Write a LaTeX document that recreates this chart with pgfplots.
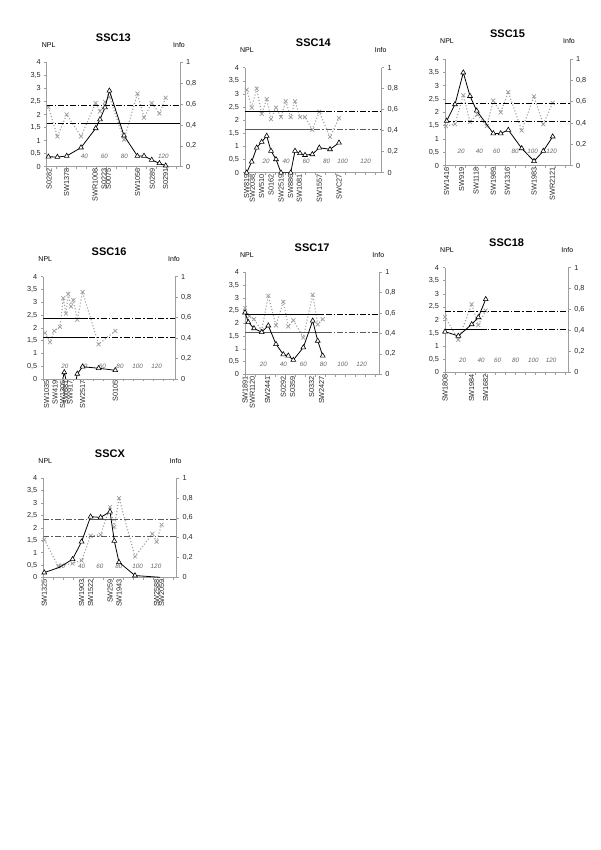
\documentclass[border=0pt]{standalone}
\usepackage{fontspec}
\setmainfont{Liberation Sans}
\usepackage{pgfplots}
\pgfplotsset{compat=1.18}
\definecolor{axgray}{gray}{0.62}
\definecolor{infogray}{gray}{0.62}
\definecolor{thrgray}{gray}{0.35}
\pgfplotsset{
 base/.style={scale only axis, anchor=south west, xmin=0, clip=true, clip mode=individual,
   /pgf/number format/use comma, /pgf/number format/assume math mode=true,
   tick align=outside, major tick length=2.5pt, tick style={axgray, line width=0.5pt},
   tick label style={font=\fontsize{7.3}{8}\selectfont, text=black!85},
   axis line style={axgray, line width=0.6pt}},
 infax/.style={base, axis y line*=right, axis x line=none, ymin=0, ymax=1,
   ytick={0,0.2,0.4,0.6,0.8,1}, yticklabel style={/pgf/number format/fixed}},
 nplax/.style={base, axis y line*=left, axis x line*=bottom, ymin=0, ymax=4,
   ytick={0,0.5,1,1.5,2,2.5,3,3.5,4}, xtick={0,10,...,140}, xticklabels={},
   extra x tick style={major tick length=0pt,
     tick label style={rotate=90, anchor=east, font=\fontsize{7.3}{8}\selectfont, inner sep=1.5pt}}},
 infoplot/.style={infogray, dotted, line width=1.1pt, mark=x, mark size=2.8pt,
   mark options={solid, line width=0.7pt, infogray}},
 nplplot/.style={black, line width=0.8pt, mark=triangle*, mark size=2.8pt,
   mark options={fill=white, draw=black, line width=0.6pt, solid}},
 nplline/.style={black, line width=0.8pt, no marks},
 nplmarks/.style={only marks, mark=triangle*, mark size=2.8pt,
   mark options={fill=white, draw=black, line width=0.6pt, solid}},
 thr/.style={black, line width=0.9pt, no marks, dash pattern=on 6pt off 2pt on 1.5pt off 2pt},
 thrs/.style={black, line width=0.9pt, no marks, solid},
}
\newcommand{\nlab}[3]{\node[font=\fontsize{6.3}{7}\selectfont\itshape, text=black!60, inner sep=0pt] at (axis cs:#1,#2) {#3};}
\newcommand{\heads}[1]{%
 \node[font=\fontsize{11}{12}\selectfont\bfseries, anchor=base, yshift=21pt] at (rel axis cs:0.5,1) {#1};
 \node[font=\fontsize{7}{8}\selectfont, anchor=base, xshift=2pt, yshift=15pt] at (rel axis cs:0,1) {NPL};
 \node[font=\fontsize{7}{8}\selectfont, anchor=base, xshift=-1pt, yshift=15pt] at (rel axis cs:1,1) {Info};}
\begin{document}
\begin{tikzpicture}
\path[use as bounding box] (0,0) rectangle (600pt,850pt);

% ---------------- SSC13 ----------------
\begin{axis}[infax, at={(46.7pt,683.3pt)}, width=133.3pt, height=104.4pt, xmax=133.3]
\addplot[infoplot] coordinates {(1.7,0.57)(10.7,0.29)(20,0.50)(34.3,0.29)(49,0.61)(53.3,0.53)(58.3,0.62)(62.7,0.67)(77.3,0.26)(90.7,0.70)(97.3,0.47)(105,0.61)(112.7,0.51)(119,0.66)};
\end{axis}
\begin{axis}[nplax, at={(46.7pt,683.3pt)}, width=133.3pt, height=104.4pt, xmax=133.3,
  extra x ticks={2.3,20,48.3,57.3,61.7,91,105.7,119},
  extra x tick labels={S0282,SW1378,SWR1008,S0223,S0075,SW1056,S0289,S0291}]
\addplot[thr] coordinates {(0,2.33)(133.3,2.33)};
\addplot[thr] coordinates {(0,1.64)(133.3,1.64)};
\addplot[thrs] coordinates {(40,1.64)(133.3,1.64)};
\nlab{37.7}{0.38}{40}\nlab{57.7}{0.38}{60}\nlab{77.7}{0.38}{80}\nlab{116.7}{0.38}{120}
\addplot[nplplot] coordinates {(1.7,0.38)(10.7,0.37)(20,0.41)(34.3,0.73)(49,1.47)(53.3,1.81)(58.3,2.27)(62.7,2.91)(77.3,1.19)(90.7,0.41)(97.3,0.41)(105,0.26)(112.7,0.13)(119,0.04)};
\heads{SSC13}
\end{axis}

% ---------------- SSC14 ----------------
\begin{axis}[infax, at={(245pt,677.3pt)}, width=136.7pt, height=105pt, xmax=136.7]
\addplot[infoplot] coordinates {(1.7,0.79)(6.7,0.62)(11.7,0.80)(16.7,0.56)(21.7,0.70)(26,0.51)(31,0.62)(36,0.53)(40.7,0.68)(45.7,0.53)(50,0.68)(55,0.53)(60,0.53)(67.3,0.41)(74.3,0.58)(85,0.34)(94,0.52)};
\end{axis}
\begin{axis}[nplax, at={(245pt,677.3pt)}, width=136.7pt, height=105pt, xmax=136.7,
  extra x ticks={1.7,7.3,16.7,26,36,45.7,54.3,74.3,94},
  extra x tick labels={SW819,SW2038,SW510,S0162,SW2519,SW886,SW1081,SW1557,SWC27}]
\addplot[thr] coordinates {(0,2.33)(136.7,2.33)};
\addplot[thrs] coordinates {(0,2.33)(80,2.33)};
\addplot[thr, thrgray] coordinates {(0,1.64)(136.7,1.64)};
\addplot[thrs, thrgray] coordinates {(0,1.64)(67,1.64)};
\nlab{21}{0.42}{20}\nlab{41}{0.42}{40}\nlab{61}{0.42}{60}\nlab{81.7}{0.42}{80}\nlab{97.7}{0.42}{100}\nlab{120.7}{0.42}{120}
\addplot[nplplot] coordinates {(1.7,0)(6.7,0.42)(11.7,0.95)(16.7,1.17)(21.7,1.40)(26,0.83)(31,0.51)(36,0)(45.7,0)(50,0.83)(55,0.74)(60,0.67)(67.3,0.70)(74.3,0.95)(85,0.89)(94,1.14)};
\heads{SSC14}
\end{axis}

% ---------------- SSC15 ----------------
\begin{axis}[infax, at={(445pt,684.3pt)}, width=125pt, height=106.7pt, xmax=125]
\addplot[infoplot] coordinates {(1,0.37)(10,0.39)(18.3,0.66)(25,0.41)(32.3,0.48)(41.7,0.37)(48.3,0.61)(55.7,0.50)(63.3,0.69)(76.7,0.33)(89,0.65)(98.3,0.39)(107.7,0.59)};
\end{axis}
\begin{axis}[nplax, at={(445pt,684.3pt)}, width=125pt, height=106.7pt, xmax=125,
  extra x ticks={1.7,16.7,31,48.3,62.3,89,107.3},
  extra x tick labels={SW1416,SW919,SW1118,SW1989,SW1316,SW1983,SWR2121}]
\addplot[thr] coordinates {(0,2.33)(125,2.33)};
\addplot[thr] coordinates {(0,1.64)(125,1.64)};
\nlab{16}{0.52}{20}\nlab{34.3}{0.52}{40}\nlab{51.7}{0.52}{60}\nlab{70}{0.52}{80}\nlab{87.7}{0.52}{100}\nlab{106.7}{0.52}{120}
\addplot[nplplot] coordinates {(1.7,1.68)(10,2.30)(18.3,3.49)(25,2.61)(31.7,2.06)(48.3,1.21)(55.7,1.21)(63.3,1.34)(76.7,0.65)(89,0.17)(98.3,0.55)(107.7,1.09)};
\heads{SSC15}
\end{axis}

% ---------------- SSC16 ----------------
\begin{axis}[infax, at={(43.3pt,471pt)}, width=131.7pt, height=102.3pt, xmax=131.7]
\addplot[infoplot] coordinates {(1.7,0.45)(6.7,0.36)(11,0.47)(16.7,0.51)(20,0.79)(22.7,0.64)(25,0.83)(27.7,0.71)(30,0.77)(34,0.58)(39.3,0.85)(55.3,0.34)(72,0.47)};
\end{axis}
\begin{axis}[nplax, at={(43.3pt,471pt)}, width=131.7pt, height=102.3pt, xmax=131.7,
  extra x ticks={3.3,11.7,19.3,22.3,26.7,39.3,72},
  extra x tick labels={SW1035,SW419,SW1305,SW681,SW917,SW2517,S0105}]
\addplot[thr] coordinates {(0,2.35)(131.7,2.35)};
\addplot[thrs] coordinates {(0,2.35)(45,2.35)};
\addplot[thr] coordinates {(0,1.64)(131.7,1.64)};
\addplot[thrs] coordinates {(0,1.64)(45,1.64)};
\nlab{21.7}{0.48}{20}\nlab{40.7}{0.48}{40}\nlab{59}{0.48}{60}\nlab{76.7}{0.48}{80}\nlab{94.3}{0.48}{100}\nlab{113.3}{0.48}{120}
\addplot[nplline] coordinates {(16,-0.6)(21,0.26)(26,-0.6)(30,-0.6)(34,0.2)(39.3,0.48)(55.3,0.42)(72,0.34)};
\addplot[nplmarks] coordinates {(21,0.26)(34,0.2)(39.3,0.48)(55.3,0.42)(72,0.34)};
\heads{SSC16}
\end{axis}

% ---------------- SSC17 ----------------
\begin{axis}[infax, at={(245pt,475.7pt)}, width=134.3pt, height=102pt, xmax=134.3]
\addplot[infoplot] coordinates {(0,0.65)(4.3,0.57)(9,0.54)(16.7,0.43)(23.3,0.77)(31,0.48)(38.3,0.71)(43.3,0.47)(48.3,0.53)(58.3,0.36)(67.7,0.78)(72.7,0.49)(77.7,0.54)};
\end{axis}
\begin{axis}[nplax, at={(245pt,475.7pt)}, width=134.3pt, height=102pt, xmax=134.3,
  extra x ticks={0,7.3,22.7,38.3,47.7,66.7,76.7},
  extra x tick labels={SW1891,SWR1120,SW2441,S0292,S0359,S0332,SW2427}]
\addplot[thr] coordinates {(0,2.33)(134.3,2.33)};
\addplot[thrs] coordinates {(0,2.33)(76.7,2.33)};
\addplot[thr, thrgray] coordinates {(0,1.63)(134.3,1.63)};
\addplot[thrs, thrgray] coordinates {(0,1.63)(83,1.63)};
\nlab{18.3}{0.41}{20}\nlab{38.3}{0.41}{40}\nlab{58.3}{0.41}{60}\nlab{78.3}{0.41}{80}\nlab{97.7}{0.41}{100}\nlab{116.7}{0.41}{120}
\addplot[nplplot] coordinates {(0,2.42)(3.3,2.04)(9,1.80)(16.7,1.65)(23.3,1.91)(31,1.18)(38.3,0.78)(43.3,0.73)(48.3,0.56)(58.3,1.05)(67.7,2.10)(72.7,1.31)(77.7,0.73)};
\heads{SSC17}
\end{axis}

% ---------------- SSC18 ----------------
\begin{axis}[infax, at={(445pt,477.7pt)}, width=123.3pt, height=104.7pt, xmax=123.3]
\addplot[infoplot] coordinates {(0,0.53)(13.3,0.31)(26.7,0.65)(33.3,0.45)(40.7,0.59)};
\end{axis}
\begin{axis}[nplax, at={(445pt,477.7pt)}, width=123.3pt, height=104.7pt, xmax=123.3,
  extra x ticks={0,26.7,40.7},
  extra x tick labels={SW1808,SW1984,SW1682}]
\addplot[thr] coordinates {(0,2.33)(123.3,2.33)};
\addplot[thr] coordinates {(0,1.64)(123.3,1.64)};
\addplot[thrs] coordinates {(0,1.64)(41.7,1.64)};
\nlab{17.7}{0.45}{20}\nlab{36}{0.45}{40}\nlab{52.7}{0.45}{60}\nlab{70.7}{0.45}{80}\nlab{88.3}{0.45}{100}\nlab{106}{0.45}{120}
\addplot[nplplot] coordinates {(0,1.55)(13.3,1.39)(26.7,1.83)(33.3,2.10)(40.7,2.79)};
\heads{SSC18}
\end{axis}

% ---------------- SSCX ----------------
\begin{axis}[infax, at={(43.3pt,272.7pt)}, width=133.3pt, height=99pt, xmax=133.3]
\addplot[infoplot] coordinates {(1,0.38)(15,0.11)(29.3,0.14)(38.3,0.17)(47.3,0.42)(57.3,0.43)(66.7,0.71)(71,0.51)(75.7,0.80)(91.7,0.21)(109,0.44)(113.3,0.36)(118.3,0.53)};
\end{axis}
\begin{axis}[nplax, at={(43.3pt,272.7pt)}, width=133.3pt, height=99pt, xmax=133.3,
  extra x ticks={1,38.3,47.3,66.7,75.7,113.3,118.3},
  extra x tick labels={SW1325,SW1903,SW1522,SW259,SW1943,SW2588,SW2059}]
\addplot[thr, thrgray] coordinates {(0,2.35)(133.3,2.35)};
\addplot[thrs, thrgray] coordinates {(46.7,2.35)(71.7,2.35)};
\addplot[thr, thrgray] coordinates {(0,1.64)(133.3,1.64)};
\nlab{18.3}{0.46}{20}\nlab{38.3}{0.46}{40}\nlab{56.7}{0.46}{60}\nlab{75.7}{0.46}{80}\nlab{94.3}{0.46}{100}\nlab{112.7}{0.46}{120}
\addplot[nplline] coordinates {(1,0.19)(16,0.40)(29.3,0.73)(38.3,1.44)(47.3,2.45)(57.3,2.42)(66.7,2.65)(71,1.47)(75.7,0.61)(91.7,0.07)(116.7,0)};
\addplot[nplmarks] coordinates {(1,0.19)(29.3,0.73)(38.3,1.44)(47.3,2.45)(57.3,2.42)(66.7,2.65)(71,1.47)(75.7,0.61)(91.7,0.07)};
\heads{SSCX}
\end{axis}
\end{tikzpicture}
\end{document}
